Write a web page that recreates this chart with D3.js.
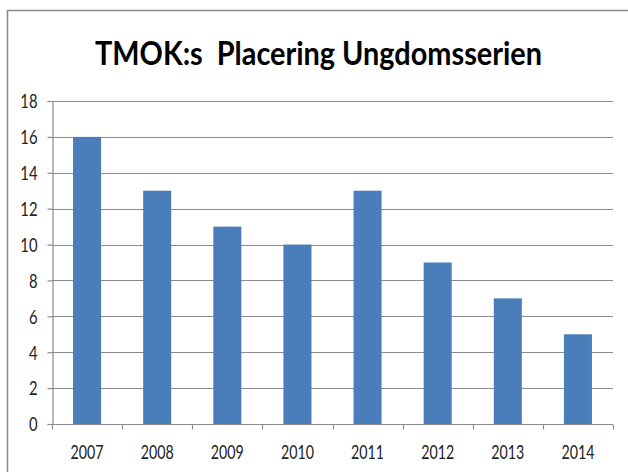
<!DOCTYPE html>
<html><head><meta charset="utf-8">
<script src="https://cdn.jsdelivr.net/npm/d3@7"></script>
<style>body{margin:0;background:#fff}svg{display:block}</style>
</head><body>
<script>
const title = "TMOK:s  Placering Ungdomsserien";
const categories = ["2007","2008","2009","2010","2011","2012","2013","2014"];
const values = [16,13,11,10,13,9,7,5];
const yTicks = [0,2,4,6,8,10,12,14,16,18];

(function(){
const W = 628, H = 472;
const svg = d3.select("body").append("svg").attr("width", W).attr("height", H);
svg.append("rect").attr("width", W).attr("height", H).attr("fill", "#fff");
// outer frame
svg.append("path").attr("d", `M7.5,${H} V10.5 H${W}`).attr("fill","none").attr("stroke","#8a8a8a").attr("stroke-width",1.5);

const pLeft = 52, pRight = 613, pTop = 101, pBottom = 424;
const x = d3.scaleBand().domain(categories).range([pLeft, pRight]).paddingInner(0.6).paddingOuter(0.3);
const xb = d3.scaleBand().domain(categories).range([pLeft, pRight]).padding(0);
const y = d3.scaleLinear().domain([0, 18]).range([pBottom, pTop]);

const font = "Lato, 'Open Sans', sans-serif";

// gridlines
svg.append("g").selectAll("line").data(yTicks.filter(d => d > 0)).join("line")
  .attr("x1", pLeft).attr("x2", pRight)
  .attr("y1", d => Math.round(y(d)) + 0.5).attr("y2", d => Math.round(y(d)) + 0.5)
  .attr("stroke", "#8c8c8c").attr("stroke-width", 1.2);

// bars
svg.append("g").selectAll("rect").data(values).join("rect")
  .attr("x", (d, i) => x(categories[i]))
  .attr("width", x.bandwidth())
  .attr("y", d => y(d))
  .attr("height", d => y(0) - y(d))
  .attr("fill", "#4a7ebb");

// y axis
const yAxis = svg.append("g").attr("transform", `translate(${pLeft + 0.5},0)`)
  .call(d3.axisLeft(y).tickValues(yTicks).tickSize(5).tickPadding(10));
yAxis.select(".domain").attr("stroke", "#8c8c8c").attr("stroke-width", 1.2);
yAxis.selectAll(".tick line").attr("stroke", "#8c8c8c").attr("stroke-width", 1.2);
yAxis.selectAll(".tick text").attr("font-family", font).attr("font-size", 19).attr("fill", "#222")
  .attr("dy", "0.36em")
  .attr("textLength", d => String(d).length * 8.6).attr("lengthAdjust", "spacingAndGlyphs");

// x axis (ticks at band boundaries)
const xg = svg.append("g").attr("transform", `translate(0,${pBottom + 0.5})`);
xg.append("line").attr("x1", pLeft).attr("x2", pRight).attr("stroke", "#8c8c8c").attr("stroke-width", 1.2);
const bounds = categories.map(c => xb(c)).concat([pRight]);
xg.selectAll("line.tk").data(bounds).join("line").attr("class","tk")
  .attr("x1", d => Math.round(d) + 0.5).attr("x2", d => Math.round(d) + 0.5)
  .attr("y1", 0).attr("y2", 5).attr("stroke", "#8c8c8c").attr("stroke-width", 1.2);
xg.selectAll("text").data(categories).join("text")
  .attr("x", d => xb(d) + xb.bandwidth() / 2)
  .attr("y", 34.5)
  .attr("text-anchor", "middle")
  .attr("font-family", font).attr("font-size", 19).attr("fill", "#222")
  .attr("textLength", 33).attr("lengthAdjust", "spacingAndGlyphs")
  .text(d => d);

// title
svg.append("text").attr("x", 318.5).attr("y", 65)
  .attr("text-anchor", "middle")
  .attr("font-family", font).attr("font-weight", "bold").attr("font-size", 33).attr("fill", "#000")
  .attr("textLength", 447).attr("lengthAdjust", "spacingAndGlyphs")
  .style("white-space", "pre")
  .text(title);
})();
</script>
</body></html>
